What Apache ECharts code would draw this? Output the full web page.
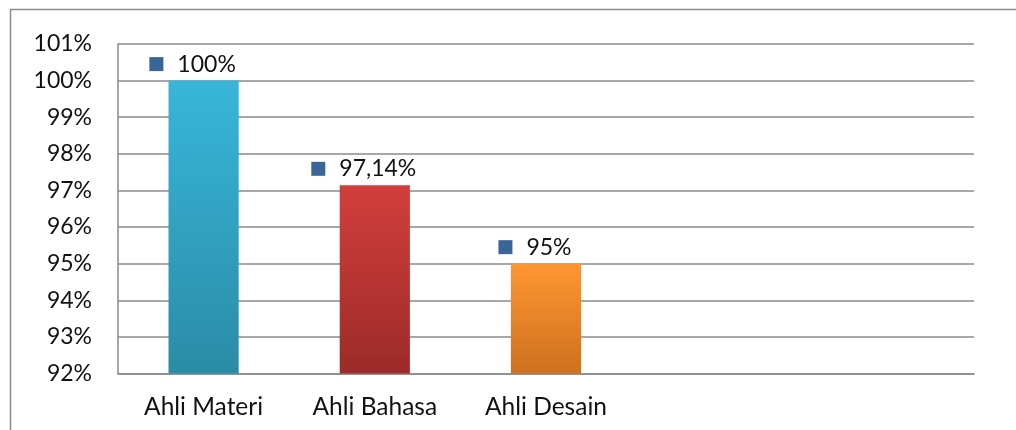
<!DOCTYPE html>
<html><head><meta charset="utf-8">
<script src="https://cdn.jsdelivr.net/npm/echarts@6/dist/echarts.min.js"></script>
<style>html,body{margin:0;padding:0;background:#fff}#c{width:1016px;height:430px}</style>
</head><body><div id="c"></div>
<script>
const categories = ['Ahli Materi', 'Ahli Bahasa', 'Ahli Desain', '', ''];
const values = [100, 97.14, 95, null, null];
const valueLabels = ['100%', '97,14%', '95%', '', ''];
const yTicks = [92, 93, 94, 95, 96, 97, 98, 99, 100, 101];
const barColors = [
  ['#38B6D9', '#2A8CA6'],
  ['#D23E3B', '#9C2B29'],
  ['#FF9632', '#CF701E']
];
const FONT = 'Lato, "Open Sans", sans-serif';
const chart = echarts.init(document.getElementById('c'));
chart.setOption({
  animation: false,
  grid: { left: 118, right: 42, top: 44, bottom: 56.5 },
  xAxis: {
    type: 'category', data: categories,
    axisLine: { lineStyle: { color: '#8a8a8a', width: 1.5 } },
    axisTick: { show: false },
    axisLabel: { color: '#111', fontFamily: FONT, fontSize: 24.5, margin: 21 }
  },
  yAxis: {
    type: 'value', min: yTicks[0], max: yTicks[yTicks.length - 1], interval: 1,
    axisLine: { show: true, lineStyle: { color: '#8a8a8a', width: 1.5 } },
    axisTick: { show: false },
    splitLine: { lineStyle: { color: '#8a8a8a', width: 1.5 } },
    axisLabel: { color: '#111', fontFamily: FONT, fontSize: 23, margin: 26, formatter: v => v + '%' }
  },
  graphic: [{
    type: 'polyline', silent: true,
    shape: { points: [[10.5, 430], [10.5, 9.5], [1016, 9.5]] },
    style: { stroke: '#8a8a8a', lineWidth: 1.5, fill: null }
  }],
  series: [{
    type: 'bar', barWidth: '41%',
    data: values.map((v, i) => v == null ? null : {
      value: v,
      itemStyle: { color: new echarts.graphic.LinearGradient(0, 0, 0, 1, [
        { offset: 0, color: barColors[i][0] }, { offset: 1, color: barColors[i][1] }]) },
      label: { formatter: '{s|}{g|}{t|' + valueLabels[i] + '}' }
    }),
    label: {
      show: true, position: 'top', distance: 5, offset: [-11, 0],
      rich: {
        s: { width: 14, height: 14, backgroundColor: '#3A6597' },
        g: { width: 14 },
        t: { color: '#111', fontFamily: FONT, fontSize: 23 }
      }
    }
  }]
});
</script></body></html>
